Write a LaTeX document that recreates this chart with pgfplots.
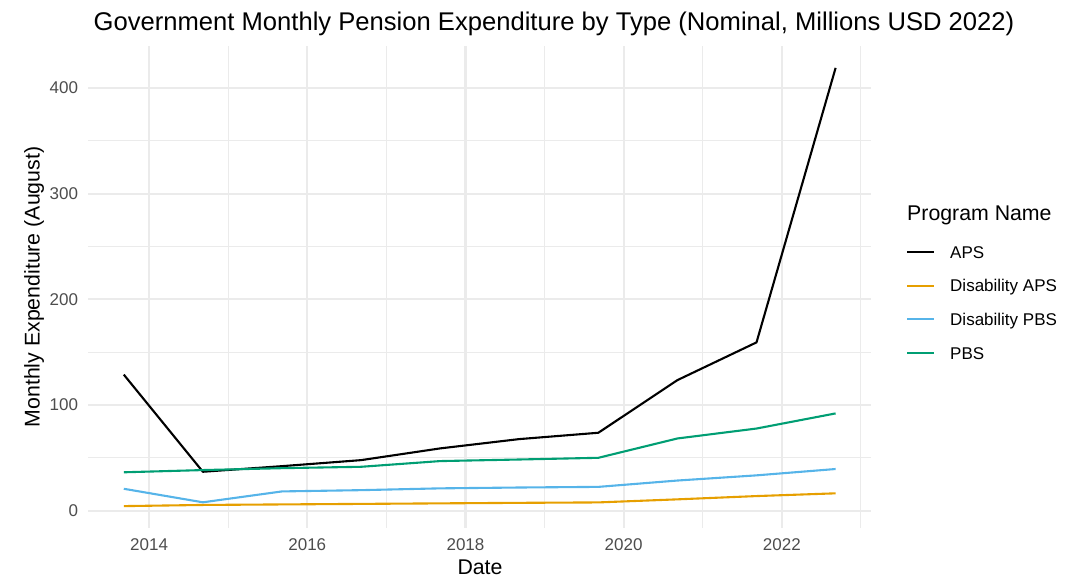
\documentclass[border=0pt]{standalone}
\usepackage{fontspec}
\setmainfont{Liberation Sans}
\usepackage{pgfplots}
\pgfplotsset{compat=1.18}
\definecolor{apsc}{HTML}{000000}
\definecolor{dapsc}{HTML}{E69F00}
\definecolor{dpbsc}{HTML}{56B4E9}
\definecolor{pbsc}{HTML}{009E73}
\definecolor{gridc}{HTML}{EBEBEB}
\definecolor{tickc}{HTML}{4D4D4D}
\begin{document}
\begin{tikzpicture}
\useasboundingbox (0pt,0pt) rectangle (1087pt,580pt);
\begin{axis}[
 at={(88.2pt,52pt)}, anchor=south west, scale only axis,
 width=783pt, height=482pt,
 xmin=2013.23, xmax=2023.13, ymin=-16.3, ymax=439.7,
 xtick={2014,2016,2018,2020,2022}, minor xtick={2013,2015,2017,2019,2021,2023},
 ytick={0,100,200,300,400}, minor ytick={50,150,250,350},
 grid=both,
 major grid style={line width=2.1pt, color=gridc},
 minor grid style={line width=1.05pt, color=gridc},
 axis line style={draw=none},
 major tick length=0pt, minor tick length=0pt,
 tick style={draw=none},
 /pgf/number format/1000 sep={},
 /pgf/number format/assume math mode=true,
 ticklabel style={font=\fontsize{17}{20}\selectfont, text=tickc},
 xticklabel style={anchor=base, yshift=-23pt, inner sep=0pt},
 yticklabel style={anchor=east, xshift=-10pt, inner sep=0pt},
 legend style={at={(1.04459,0.5853)}, anchor=north west, draw=none, fill=none,
   inner sep=0pt, outer sep=0pt, row sep=21.5pt, column sep=15pt,
   font=\fontsize{17}{20}\selectfont,
   nodes={inner sep=0pt, text height=12.2pt, text depth=0pt}},
 legend cell align=left,
 legend image code/.code={\draw[#1] (0pt,0pt) -- (27pt,0pt);},
 every axis plot/.append style={line width=2.1pt, line join=round},
]
\addplot[color=apsc] coordinates {(2013.68,128.8) (2014.68,36.9) (2015.68,42.2) (2016.68,47.9) (2017.68,59.0) (2018.68,67.8) (2019.68,73.8) (2020.68,123.6) (2021.68,159.3) (2022.68,419.0)};
\addlegendentry{APS}
\addplot[color=dapsc] coordinates {(2013.68,4.4) (2014.68,5.5) (2015.68,6.0) (2016.68,6.5) (2017.68,7.0) (2018.68,7.5) (2019.68,7.9) (2020.68,10.8) (2021.68,13.9) (2022.68,16.5)};
\addlegendentry{Disability APS}
\addplot[color=dpbsc] coordinates {(2013.68,20.8) (2014.68,8.0) (2015.68,18.3) (2016.68,19.5) (2017.68,21.2) (2018.68,22.0) (2019.68,22.6) (2020.68,28.6) (2021.68,33.5) (2022.68,39.5)};
\addlegendentry{Disability PBS}
\addplot[color=pbsc] coordinates {(2013.68,36.4) (2014.68,38.5) (2015.68,40.3) (2016.68,41.6) (2017.68,47.0) (2018.68,48.5) (2019.68,50.1) (2020.68,68.4) (2021.68,77.8) (2022.68,92.1)};
\addlegendentry{PBS}
\end{axis}
\node[anchor=base, inner sep=0pt, font=\fontsize{25.6}{30}\selectfont] at (554pt,549pt) {Government Monthly Pension Expenditure by Type (Nominal, Millions USD 2022)};
\node[anchor=base, inner sep=0pt, font=\fontsize{21.3}{25}\selectfont] at (480pt,5.4pt) {Date};
\node[rotate=90, inner sep=0pt, font=\fontsize{21.3}{25}\selectfont] at (34pt,293pt) {Monthly Expenditure (August)};
\node[anchor=base west, inner sep=0pt, font=\fontsize{21.3}{25}\selectfont] at (907pt,359pt) {Program Name};
\end{tikzpicture}
\end{document}
